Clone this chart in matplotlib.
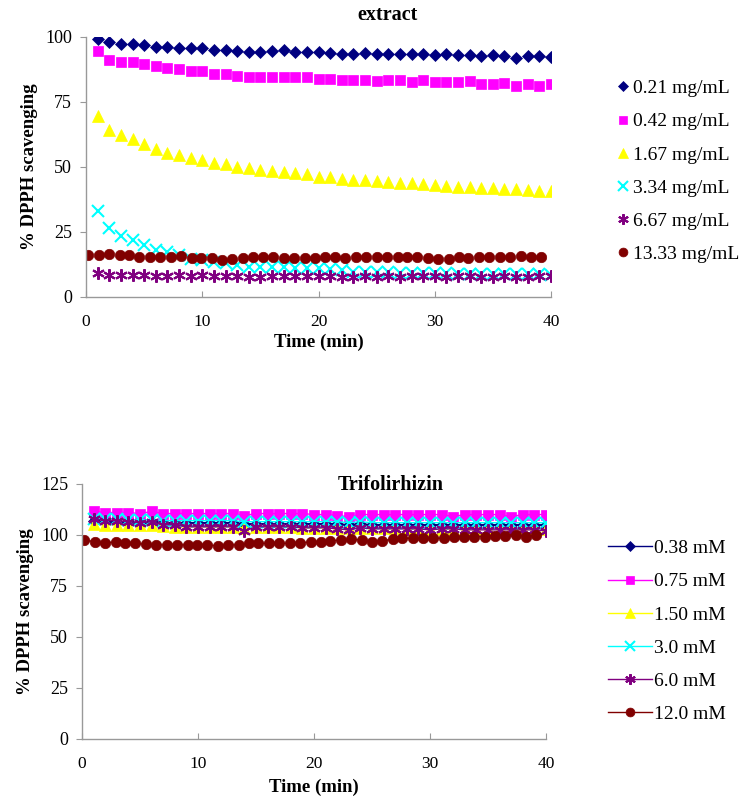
import numpy as np
import matplotlib
matplotlib.use('Agg')
import matplotlib.pyplot as plt

plt.rcParams['font.family'] = ['Liberation Serif', 'DejaVu Serif']

# ---- extract (top panel) ----
t_min = list(range(1, 41))
# the highest concentration was read at a slightly different pace
t_dark = [0.2, 1.1, 2.0, 2.9, 3.7, 4.6, 5.5, 6.4, 7.3, 8.2, 9.1, 9.9, 10.8, 11.7, 12.6,
          13.5, 14.4, 15.2, 16.1, 17.0, 17.9, 18.8, 19.7, 20.6, 21.4, 22.3, 23.2, 24.1,
          25.0, 25.9, 26.8, 27.6, 28.5, 29.4, 30.3, 31.2, 32.1, 32.9, 33.8, 34.7, 35.6,
          36.5, 37.4, 38.3, 39.1]

ext_labels = ['0.21 mg/mL', '0.42 mg/mL', '1.67 mg/mL', '3.34 mg/mL', '6.67 mg/mL', '13.33 mg/mL']

ext_021 = [99.2, 97.9, 97.4, 97.4, 96.9, 96.2, 96.2, 95.6, 95.6, 95.6, 95.0, 95.0, 94.6, 94.3,
           94.3, 94.6, 95.0, 94.3, 94.3, 94.3, 94.0, 93.5, 93.3, 93.7, 93.3, 93.5, 93.5, 93.3,
           93.3, 93.0, 93.3, 93.0, 93.0, 92.7, 93.0, 92.7, 92.0, 92.7, 92.7, 92.3]
ext_042 = [94.7, 91.2, 90.5, 90.5, 89.5, 88.8, 88.2, 87.7, 87.0, 87.0, 85.8, 85.8, 85.0, 84.5,
           84.5, 84.5, 84.5, 84.5, 84.5, 84.0, 84.0, 83.5, 83.5, 83.5, 83.1, 83.5, 83.5, 82.7,
           83.5, 82.7, 82.7, 82.7, 83.1, 81.9, 81.9, 82.3, 81.2, 81.9, 81.2, 81.9]
ext_167 = [69.6, 64.2, 62.3, 60.6, 58.8, 56.9, 55.3, 54.6, 53.3, 52.7, 51.7, 51.2, 50.1, 49.5,
           48.8, 48.6, 48.2, 47.6, 47.3, 46.3, 46.0, 45.4, 45.0, 45.0, 44.6, 44.2, 43.8, 43.8,
           43.5, 43.1, 42.7, 42.3, 42.3, 41.9, 41.9, 41.5, 41.5, 41.2, 40.8, 40.8]
ext_334 = [33.2, 26.4, 23.6, 21.9, 20.0, 18.1, 17.2, 16.2, 14.5, 14.2, 13.6, 13.0, 12.3, 11.7,
           11.7, 11.7, 11.7, 11.0, 11.0, 11.0, 10.6, 10.4, 9.7, 9.7, 9.7, 9.7, 9.4, 9.4,
           9.4, 9.2, 9.2, 9.0, 9.0, 9.0, 8.8, 8.8, 8.8, 8.7, 8.7, 8.5]
ext_667 = [9.4, 8.5, 8.5, 8.5, 8.5, 8.1, 8.1, 8.5, 8.1, 8.5, 8.1, 8.1, 8.1, 7.6,
           7.6, 8.1, 8.1, 8.1, 8.1, 8.1, 7.9, 7.6, 7.6, 8.1, 7.6, 8.1, 7.7, 8.1,
           8.1, 8.1, 7.7, 8.1, 8.1, 7.7, 7.7, 8.1, 7.7, 7.7, 8.1, 8.1]
ext_1333 = [16.2, 16.2, 16.5, 16.2, 16.2, 15.5, 15.5, 15.5, 15.5, 15.9, 14.9, 14.9, 14.9, 14.2,
            14.5, 14.9, 15.2, 15.5, 15.5, 14.9, 14.9, 14.9, 14.9, 15.2, 15.5, 14.9, 15.5, 15.5,
            15.5, 15.5, 15.2, 15.2, 15.2, 14.9, 14.5, 14.5, 15.2, 14.9, 15.2, 15.2, 15.2, 15.2,
            15.9, 15.2, 15.2]

# ---- Trifolirhizin (bottom panel) ----
tri_labels = ['0.38 mM', '0.75 mM', '1.50 mM', '3.0 mM', '6.0 mM', '12.0 mM']

tri_038 = [107.0, 106.5, 106.5, 106.5, 106.0, 106.5, 106.0, 106.0, 106.0, 106.0, 106.0, 106.0,
           106.0, 105.5, 105.5, 105.5, 105.5, 105.5, 105.5, 105.5, 105.5, 105.5, 105.0, 105.5,
           105.0, 105.0, 105.0, 105.0, 105.0, 105.0, 105.0, 105.0, 105.0, 105.0, 105.0, 105.0,
           105.0, 105.0, 105.0, 105.0]
tri_075 = [111.5, 111.0, 111.0, 111.0, 110.5, 111.5, 110.5, 110.5, 110.5, 110.5, 110.5, 110.5,
           110.5, 109.5, 110.5, 110.5, 110.5, 110.5, 110.5, 110.0, 110.0, 109.5, 109.0, 110.0,
           110.0, 110.0, 110.0, 110.0, 110.0, 110.0, 110.0, 109.0, 110.0, 110.0, 110.0, 110.0,
           109.0, 110.0, 110.0, 110.0]
tri_150 = [105.5, 105.0, 105.0, 105.0, 105.0, 105.0, 104.5, 104.0, 104.0, 104.0, 104.0, 104.0,
           104.0, 103.5, 104.0, 104.0, 104.0, 104.0, 103.5, 103.5, 103.5, 103.5, 103.5, 103.5,
           103.5, 103.5, 103.5, 103.0, 103.0, 103.0, 103.0, 103.0, 103.0, 103.0, 103.0, 103.0,
           103.0, 103.0, 103.0, 103.0]
tri_30 = [108.0, 108.0, 108.0, 107.5, 107.5, 107.5, 107.0, 107.0, 107.0, 107.0, 107.0, 107.0,
          107.0, 106.5, 106.5, 106.5, 106.5, 106.5, 106.5, 106.5, 106.5, 106.5, 106.0, 106.5,
          106.0, 106.0, 106.0, 106.0, 106.0, 106.0, 106.0, 106.0, 106.0, 106.0, 106.0, 106.0,
          106.0, 106.0, 106.0, 106.0]
tri_60 = [108.0, 107.0, 107.0, 106.5, 106.0, 106.5, 105.0, 105.0, 104.0, 104.0, 104.0, 104.0,
          104.0, 102.0, 104.0, 104.0, 104.0, 104.0, 103.5, 103.5, 103.5, 103.0, 102.5, 103.5,
          103.0, 103.0, 103.0, 103.0, 103.0, 102.5, 103.0, 103.0, 102.5, 102.5, 102.5, 102.5,
          102.5, 102.5, 102.5, 102.0]
tri_120 = [97.5, 96.7, 95.9, 96.7, 95.9, 95.9, 95.4, 95.1, 95.1, 95.1, 95.1, 95.1, 95.1, 94.6,
           95.1, 95.1, 95.9, 95.9, 95.9, 95.9, 95.9, 95.9, 96.7, 96.7, 97.1, 97.5, 97.9, 97.5,
           96.7, 97.2, 97.9, 98.4, 98.4, 98.4, 98.4, 98.4, 98.9, 99.2, 99.2, 99.2, 99.7, 99.7,
           100.2, 99.0, 100.0]

colors = ['#000080', '#FF00FF', '#FFFF00', '#00FFFF', '#800080', '#800000']
markers = ['D', 's', '^', 'x', (6, 2, 0), 'o']
sizes = [6, 7, 8, 8, 9, 7.5]

fig = plt.figure(figsize=(7.46, 8.07), dpi=100)
ax1 = fig.add_axes([0.1153, 0.632, 0.6233, 0.3222])
ax2 = fig.add_axes([0.1099, 0.0843, 0.622, 0.3160])


def style_axis(ax, ymax, ystep, xpad):
    for s in ['top', 'right']:
        ax.spines[s].set_visible(False)
    for s in ['left', 'bottom']:
        ax.spines[s].set_color('#999999')
        ax.spines[s].set_linewidth(1)
    ax.set_xlim(0, 40)
    ax.set_ylim(0, ymax)
    ax.set_xticks([0, 10, 20, 30, 40])
    ax.set_yticks(np.arange(0, ymax + 1, ystep))
    ax.tick_params(axis='x', direction='in', length=4, color='#999999', labelsize=12.5, pad=12)
    ax.tick_params(axis='y', direction='out', length=4, color='#999999', labelsize=13, pad=6)
    ax.set_xlabel('Time (min)', fontsize=13.5, fontweight='bold', labelpad=xpad)
    ax.set_ylabel('% DPPH scavenging', fontsize=13.5, fontweight='bold', labelpad=5)


# top panel: markers only
ext_series = [ext_021, ext_042, ext_167, ext_334, ext_667, ext_1333]
handles1 = []
for i, ys in enumerate(ext_series):
    xs = t_dark if i == 5 else t_min
    lw_m = 1.5 if markers[i] in ('x', (6, 2, 0)) else 0.5
    h, = ax1.plot(xs, ys, linestyle='none', marker=markers[i], markersize=sizes[i],
                  color=colors[i], markeredgewidth=lw_m,
                  markeredgecolor=colors[i], label=ext_labels[i])
    handles1.append(h)
style_axis(ax1, 100, 25, 3)
fig.text(0.52, 0.981, 'extract', ha='center', va='center', fontsize=14.5, fontweight='bold')

fig.legend(handles=handles1, loc='upper left', bbox_to_anchor=(0.817, 0.911),
           frameon=False, fontsize=14, handlelength=0.6, handletextpad=0.2,
           labelspacing=0.8, borderaxespad=0, markerscale=0.85)

# bottom panel: markers with thin lines
tri_series = [tri_038, tri_075, tri_150, tri_30, tri_60, tri_120]
handles2 = []
for i, ys in enumerate(tri_series):
    xs = t_dark if i == 5 else t_min
    lw_m = 1.5 if markers[i] in ('x', (6, 2, 0)) else 0.5
    h, = ax2.plot(xs, ys, linestyle='-', linewidth=1, marker=markers[i], markersize=sizes[i],
                  color=colors[i], markeredgewidth=lw_m, markeredgecolor=colors[i],
                  label=tri_labels[i])
    handles2.append(h)
style_axis(ax2, 125, 25, 5)
fig.text(0.524, 0.399, 'Trifolirhizin', ha='center', va='center', fontsize=14.5, fontweight='bold')

fig.legend(handles=handles2, loc='upper left', bbox_to_anchor=(0.804, 0.341),
           frameon=False, fontsize=14, handlelength=2.3, handletextpad=0.1,
           labelspacing=0.8, borderaxespad=0, markerscale=0.85)

plt.savefig('out.png', dpi=100)
